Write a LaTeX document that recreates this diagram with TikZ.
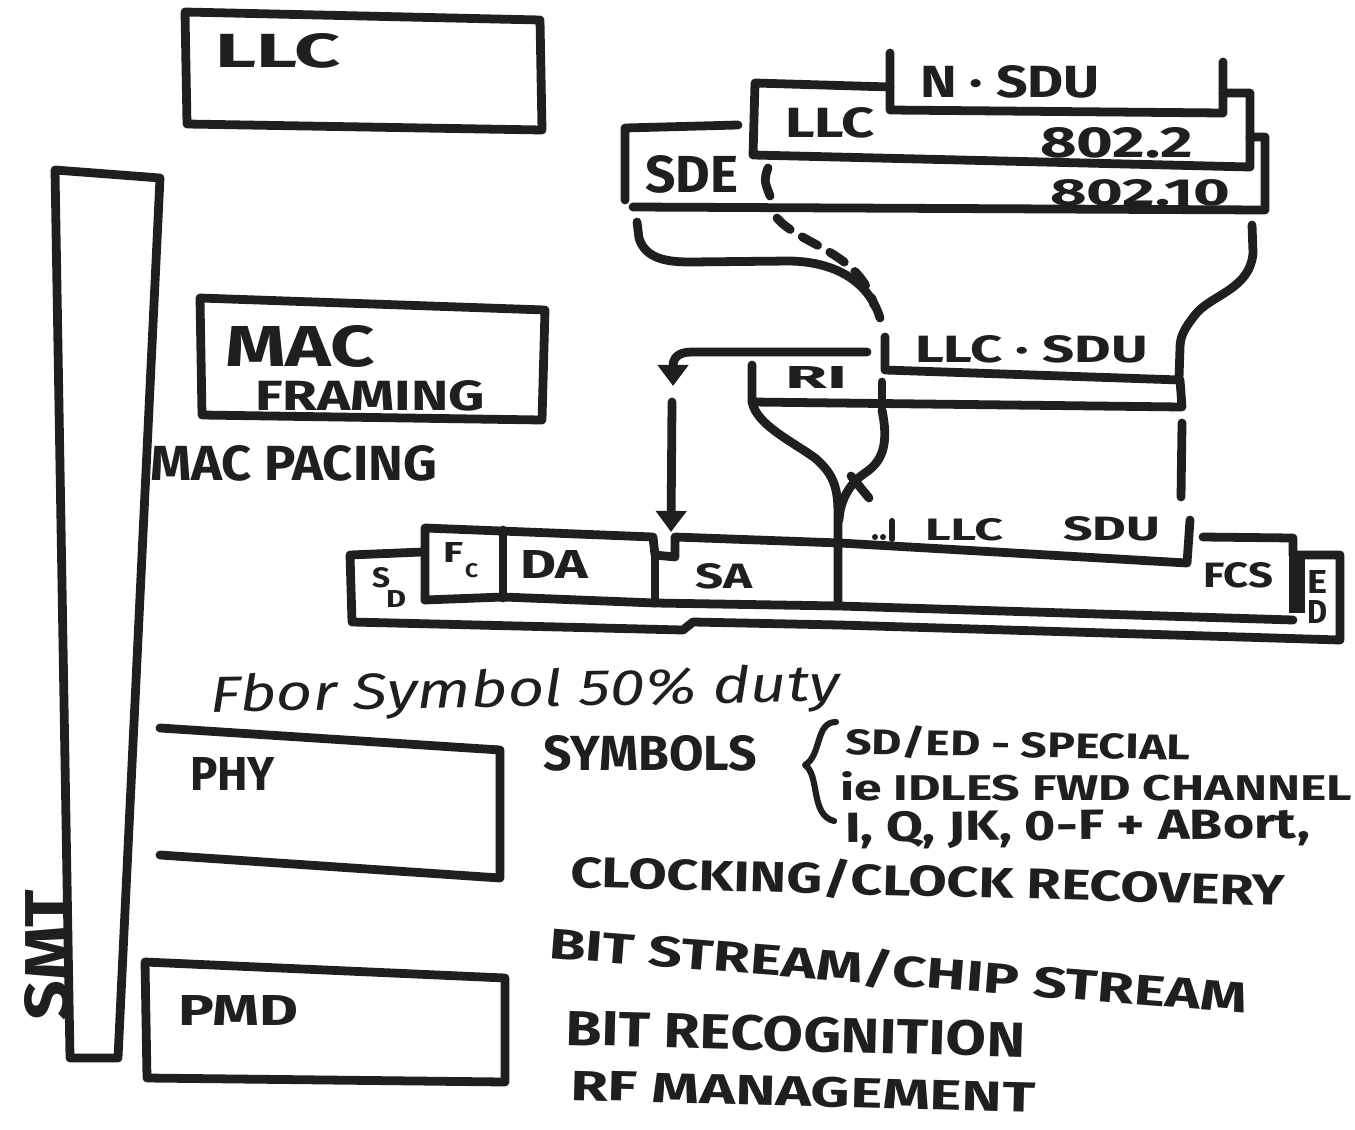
\documentclass[tikz,border=0pt]{standalone}
\usepackage{fontspec}
\setmainfont{Fira Sans}
\usepackage{graphicx}
\usetikzlibrary{arrows.meta}
\newlength\pxu
\setlength\pxu{0.02cm}
\newcommand\tx[3]{\resizebox{#1\pxu}{#2\pxu}{\bfseries #3}}
\newcommand\tl[3]{\resizebox{#1\pxu}{#2\pxu}{\itshape #3}}
\tikzset{
  ink/.style={line width=5pt, line cap=round, line join=round, draw=black!88},
  thinink/.style={line width=3.5pt, line cap=round, line join=round, draw=black!88},
  txt/.style={inner sep=0pt, outer sep=0pt, anchor=base west, text=black!88},
  tip/.style={-{Triangle[length=12pt,width=17pt]}}
}
\begin{document}
\begin{tikzpicture}[x=0.02cm,y=-0.02cm]
\useasboundingbox (0,0) rectangle (1355,1129);
\fill[white] (0,0) rectangle (1355,1129);

% ---------------- left column ----------------
\draw[ink] (185,12) -- (540,20) -- (542,130) -- (187,124) -- cycle;
\node[txt] (llctop) at (215,68) {\tx{125}{34}{LLC}};

\draw[ink] (55,170) -- (160,178) -- (118,1058) -- (70,1058) -- cycle;
\node[txt, rotate=90] (smt) at (70,1020) {\tx{130}{45}{SMT}};

\draw[ink] (200,298) -- (545,310) -- (542,420) -- (202,415) -- cycle;
\node[txt] (mac) at (225,366) {\tx{150}{41}{MAC}};
\node[txt] (framing) at (255,410) {\tx{230}{30}{FRAMING}};
\node[txt] (pacing) at (150,480) {\tx{287}{35}{MAC PACING}};

\draw[ink] (160,728) -- (500,750) -- (500,878) -- (160,855);
\node[txt] (phy) at (190,790) {\tx{85}{33}{PHY}};

\draw[ink] (145,962) -- (505,978) -- (505,1082) -- (147,1078) -- cycle;
\node[txt] (pmd) at (178,1025) {\tx{120}{30}{PMD}};

% ---------------- top frame ----------------
\draw[ink] (890,53) -- (890,110) -- (1223,113) -- (1223,62);
\draw[ink] (890,87) -- (755,83) -- (753,155) -- (1250,167) -- (1250,93) -- (1223,93);
\draw[ink] (738,125) -- (625,128) -- (625,200);
\draw[ink] (633,207) -- (1265,210) -- (1265,137) -- (1250,137);
\draw[ink] (768,168) .. controls (764,180) .. (770,196);
\node[txt] (nsdu) at (920,97) {\tx{180}{32}{N · SDU}};
\node[txt] (llcmid) at (785,137) {\tx{90}{30}{LLC}};
\node[txt] (s8022) at (1040,157) {\tx{153}{30}{802.2}};
\node[txt] (sde) at (645,192) {\tx{93}{37}{SDE}};
\node[txt] (s80210) at (1050,205) {\tx{180}{26}{802.10}};

% funnel curves
\draw[ink] (637,222) -- (639,238) .. controls (645,258) and (665,262) .. (690,262) -- (790,261) .. controls (840,262) and (870,285) .. (880,318);
\draw[ink, dash pattern=on 10pt off 8pt] (777,218) .. controls (800,245) and (860,252) .. (874,305);
\draw[ink] (1252,225) -- (1253,253) .. controls (1250,290) and (1210,295) .. (1195,315) .. controls (1183,330) and (1180,338) .. (1180,348) -- (1179,378);

% LLC.SDU and RI
\draw[ink] (885,337) -- (885,370) -- (1180,380) -- (1182,407) -- (752,402) -- (752,365);
\draw[ink] (882,382) -- (882,400);
\node[txt] (llcsdu) at (915,362) {\tx{233}{27}{LLC · SDU}};
\node[txt] (ri) at (785,388) {\tx{62}{22}{RI}};

\coordinate (arrA) at (673,386);
\coordinate (arrB) at (671,532);
\draw[ink, tip] (867,352) -- (692,352) .. controls (678,352) and (673,358) .. (arrA);
\draw[ink, tip] (672,402) -- (arrB);

\draw[ink] (752,402) .. controls (757,425) and (790,440) .. (815,458) .. controls (835,475) and (838,490) .. (838,515) -- (838,602);
\draw[ink] (882,410) .. controls (888,440) and (885,460) .. (865,473) .. controls (850,483) and (840,500) .. (839,520);
\draw[ink] (851,476) -- (869,498);
\draw[ink] (1182,423) -- (1181,497);

% ---------------- bottom frame ----------------
\draw[ink] (422,552) -- (350,555) -- (352,622) -- (683,630) -- (693,622) -- (840,625) -- (1340,640) -- (1340,555) -- (1293,555) -- (1293,538) -- (1203,537);
\draw[ink] (425,600) -- (425,528) -- (653,537) -- (655,555) -- (675,557) -- (675,537) -- (840,543) -- (1187,563) -- (1190,520);
\draw[ink] (503,530) -- (503,598);
\draw[ink] (655,557) -- (655,603);
\draw[ink] (425,600) -- (503,597) -- (655,603) -- (840,606) -- (1293,620);
\draw[ink, line width=9pt, line cap=butt] (1297,555) -- (1297,613);

\node[txt] (sdS) at (372,587) {\tx{18}{20}{S}};
\node[txt] (sdD) at (386,607) {\tx{20}{17}{D}};
\node[txt] (fcF) at (443,562) {\tx{20}{20}{F}};
\node[txt] (fcc) at (465,577) {\tx{13}{14}{C}};
\node[txt] (da) at (520,578) {\tx{68}{28}{DA}};
\node[txt] (sa) at (695,588) {\tx{57}{25}{SA}};
\fill[black!88] (875,537) circle (3);
\fill[black!88] (883,537) circle (3);
\draw[thinink] (892,521) -- (892,539);
\node[txt] (llc2) at (925,540) {\tx{78}{22}{LLC}};
\node[txt] (sdu2) at (1063,540) {\tx{97}{24}{SDU}};
\node[txt] (fcs) at (1203,587) {\tx{70}{25}{FCS}};
\node[txt] (edE) at (1307,593) {\tx{20}{23}{E}};
\node[txt] (edD) at (1307,623) {\tx{20}{23}{D}};

% ---------------- annotations ----------------
\node[txt, rotate=1] (fbor) at (210,712) {\tl{630}{38}{Fbor Symbol 50\% duty}};
\node[txt] (symbols) at (543,770) {\tx{214}{35}{SYMBOLS}};
\draw[thinink] (836,722) .. controls (815,722) and (822,755) .. (805,765) .. controls (820,775) and (810,815) .. (834,821);
\node[txt, rotate=-1] (sded) at (845,754) {\tx{345}{29}{SD/ED - SPECIAL}};
\node[txt] (idles) at (840,800) {\tx{512}{29}{ie IDLES FWD CHANNEL}};
\node[txt, rotate=0.5] (iq) at (845,842) {\tx{465}{30}{I, Q, JK, 0-F + ABort,}};
\node[txt, rotate=-1.5] (clock) at (570,887) {\tx{715}{35}{CLOCKING/CLOCK RECOVERY}};
\node[txt, rotate=-4.5] (bitstream) at (548,958) {\tx{700}{35}{BIT STREAM/CHIP STREAM}};
\node[txt, rotate=-1.5] (bitrec) at (565,1045) {\tx{460}{35}{BIT RECOGNITION}};
\node[txt, rotate=-1.5] (rfman) at (570,1100) {\tx{465}{30}{RF MANAGEMENT}};
\end{tikzpicture}
\end{document}
